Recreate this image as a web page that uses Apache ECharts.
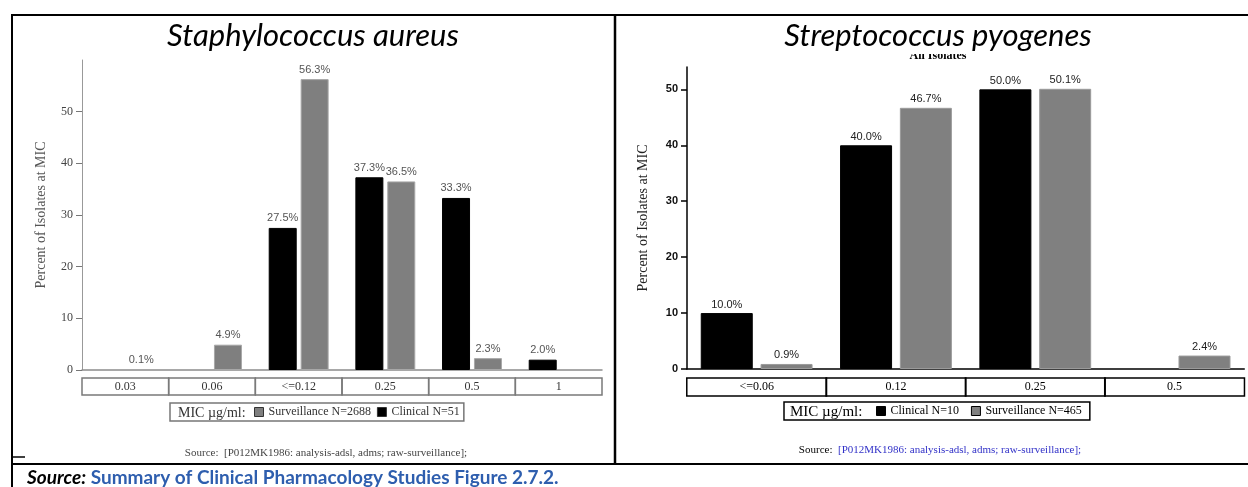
<!DOCTYPE html>
<html>
<head>
<meta charset="utf-8">
<script src="https://cdn.jsdelivr.net/npm/echarts@6/dist/echarts.min.js"></script>
<style>
  html, body { margin: 0; padding: 0; background: #fff; }
  #chart { width: 1248px; height: 487px; }
</style>
</head>
<body>
<div id="chart"></div>
<script>
// Staphylococcus aureus: MIC distribution (percent of isolates)
const saCategories = ['0.03', '0.06', '<=0.12', '0.25', '0.5', '1'];
const saClinical = [null, null, 27.5, 37.3, 33.3, 2.0];
const saSurveillance = [0.1, 4.9, 56.3, 36.5, 2.3, null];
const saTicks = [0, 10, 20, 30, 40, 50];

// Streptococcus pyogenes: MIC distribution (percent of isolates)
const spCategories = ['<=0.06', '0.12', '0.25', '0.5'];
const spClinical = [10.0, 40.0, 50.0, null];
const spSurveillance = [0.9, 46.7, 50.1, 2.4];
const spTicks = [0, 10, 20, 30, 40, 50];

const SERIF = '"Liberation Serif", "DejaVu Serif", serif';
const SANS = '"Liberation Sans", Arial, sans-serif';
const TITLE_FONT = 'Lato, "Open Sans", sans-serif';

// grid geometry
const gA = { left: 82, top: 60, width: 520, height: 310 };
const gB = { left: 687, top: 67, width: 559, height: 302 };
const catWA = gA.width / saCategories.length;
const catWB = gB.width / spCategories.length;

const pct = p => (p.value == null ? '' : p.value.toFixed(1) + '%');

const chart = echarts.init(document.getElementById('chart'), null, { renderer: 'canvas' });

chart.setOption({
  animation: false,
  backgroundColor: '#fff',
  grid: [
    Object.assign({ containLabel: false }, gA),
    Object.assign({ containLabel: false }, gB)
  ],
  xAxis: [
    {
      gridIndex: 0, type: 'category', data: saCategories,
      axisLine: { lineStyle: { color: '#8c8c8c', width: 1.5 } },
      axisTick: { show: false },
      axisLabel: {
        interval: 0, margin: 8, width: catWA, height: 17, lineHeight: 17,
        align: 'center', borderColor: '#7a7a7a', borderWidth: 1.5,
        fontFamily: SERIF, fontSize: 12, color: '#333'
      }
    },
    {
      gridIndex: 1, type: 'category', data: spCategories,
      axisLine: { lineStyle: { color: '#000', width: 1.5 } },
      axisTick: { show: false },
      axisLabel: {
        interval: 0, margin: 9, width: catWB, height: 18, lineHeight: 18,
        align: 'center', borderColor: '#000', borderWidth: 1.5,
        fontFamily: SERIF, fontSize: 12, color: '#000'
      }
    }
  ],
  yAxis: [
    {
      gridIndex: 0, type: 'value', min: 0, max: 60, interval: 10,
      name: 'Percent of Isolates at MIC', nameLocation: 'middle', nameGap: 34,
      nameTextStyle: { fontFamily: SERIF, fontSize: 14, color: '#555' },
      axisLine: { show: true, lineStyle: { color: '#999', width: 1 } },
      axisTick: { show: true, length: 6, customValues: saTicks, lineStyle: { color: '#777' } },
      axisLabel: { customValues: saTicks, margin: 9, fontFamily: SERIF, fontSize: 12, color: '#444' },
      splitLine: { show: false }
    },
    {
      gridIndex: 1, type: 'value', min: 0, max: 54, interval: 10,
      name: 'Percent of Isolates at MIC', nameLocation: 'middle', nameGap: 37,
      nameTextStyle: { fontFamily: SERIF, fontSize: 14, color: '#222' },
      axisLine: { show: true, lineStyle: { color: '#000', width: 1.5 } },
      axisTick: { show: true, length: 6, customValues: spTicks, lineStyle: { color: '#000', width: 1.5 } },
      axisLabel: { customValues: spTicks, margin: 9, fontFamily: SANS, fontSize: 11, fontWeight: 'bold', color: '#111' },
      splitLine: { show: false }
    }
  ],
  legend: [
    {
      left: 170, top: 403, orient: 'horizontal',
      padding: [3, 4, 3, 84], borderColor: '#777', borderWidth: 1.5,
      itemWidth: 9, itemHeight: 9, itemGap: 6, icon: 'rect',
      data: ['Surveillance N=2688', 'Clinical N=51'],
      itemStyle: { borderColor: '#333', borderWidth: 1 },
      textStyle: { fontFamily: SERIF, fontSize: 12, color: '#333' }
    },
    {
      left: 784, top: 402, orient: 'horizontal',
      padding: [3, 8, 3, 92], borderColor: '#000', borderWidth: 1.5,
      itemWidth: 9, itemHeight: 9, itemGap: 12, icon: 'rect',
      data: ['Clinical N=10', 'Surveillance N=465'],
      itemStyle: { borderColor: '#000', borderWidth: 1 },
      textStyle: { fontFamily: SERIF, fontSize: 12, color: '#000' }
    }
  ],
  series: [
    {
      name: 'Clinical N=51', type: 'bar', xAxisIndex: 0, yAxisIndex: 0,
      data: saClinical, barWidth: 28, barGap: '14%',
      itemStyle: { color: '#000', borderColor: '#000', borderWidth: 1 },
      label: { show: true, position: 'top', distance: 4, formatter: pct,
               fontFamily: SANS, fontSize: 11, color: '#555' }
    },
    {
      name: 'Surveillance N=2688', type: 'bar', xAxisIndex: 0, yAxisIndex: 0,
      data: saSurveillance, barWidth: 28, barGap: '14%',
      itemStyle: { color: '#7f7f7f', borderColor: '#a8a8a8', borderWidth: 1 },
      label: { show: true, position: 'top', distance: 4, formatter: pct,
               fontFamily: SANS, fontSize: 11, color: '#555' }
    },
    {
      name: 'Clinical N=10', type: 'bar', xAxisIndex: 1, yAxisIndex: 1,
      data: spClinical, barWidth: 52, barGap: '15%',
      itemStyle: { color: '#000', borderColor: '#000', borderWidth: 1 },
      label: { show: true, position: 'top', distance: 3, formatter: pct,
               fontFamily: SANS, fontSize: 11, color: '#222' }
    },
    {
      name: 'Surveillance N=465', type: 'bar', xAxisIndex: 1, yAxisIndex: 1,
      data: spSurveillance, barWidth: 52, barGap: '15%',
      itemStyle: { color: '#808080', borderColor: '#9a9a9a', borderWidth: 1 },
      label: { show: true, position: 'top', distance: 3, formatter: pct,
               fontFamily: SANS, fontSize: 11, color: '#222' }
    }
  ],
  graphic: [
    // table frame
    { type: 'line', shape: { x1: 11, y1: 15, x2: 1248, y2: 15 }, style: { stroke: '#000', lineWidth: 2 } },
    { type: 'line', shape: { x1: 12, y1: 14, x2: 12, y2: 487 }, style: { stroke: '#000', lineWidth: 2 } },
    { type: 'line', shape: { x1: 615, y1: 14, x2: 615, y2: 465 }, style: { stroke: '#000', lineWidth: 2.5 } },
    { type: 'line', shape: { x1: 11, y1: 464, x2: 1248, y2: 464 }, style: { stroke: '#000', lineWidth: 2 } },
    { type: 'line', shape: { x1: 12, y1: 457, x2: 25, y2: 457 }, style: { stroke: '#000', lineWidth: 1.5 } },

    // panel titles
    { type: 'text', x: 938, y: 56, z: 10,
      style: { text: 'All Isolates', font: 'bold 12px ' + SERIF, fill: '#000',
               textAlign: 'center', textVerticalAlign: 'middle' } },
    { type: 'rect', shape: { x: 895, y: 40, width: 90, height: 14 }, z: 11,
      style: { fill: '#fff' } },
    { type: 'text', x: 313, y: 36, z: 12,
      style: { text: 'Staphylococcus aureus', font: 'italic 31px ' + TITLE_FONT, fill: '#000',
               textAlign: 'center', textVerticalAlign: 'middle' } },
    { type: 'text', x: 938, y: 36, z: 12,
      style: { text: 'Streptococcus pyogenes', font: 'italic 31px ' + TITLE_FONT, fill: '#000',
               textAlign: 'center', textVerticalAlign: 'middle' } },

    // legend captions
    { type: 'text', x: 178, y: 413, z: 20,
      style: { text: 'MIC µg/ml:', font: '14px ' + SERIF, fill: '#333', textVerticalAlign: 'middle' } },
    { type: 'text', x: 790, y: 412, z: 20,
      style: { text: 'MIC µg/ml:', font: '15px ' + SERIF, fill: '#000', textVerticalAlign: 'middle' } },

    // data source notes
    { type: 'text', x: 326, y: 453,
      style: { text: 'Source:  [P012MK1986: analysis-adsl, adms; raw-surveillance];',
               font: '11px ' + SERIF, fill: '#444', textAlign: 'center', textVerticalAlign: 'middle' } },
    { type: 'text', x: 940, y: 450,
      style: { text: '{a|Source:  }{b|[P012MK1986: analysis-adsl, adms; raw-surveillance];}',
               textAlign: 'center', textVerticalAlign: 'middle',
               rich: {
                 a: { font: '11px ' + SERIF, fill: '#000' },
                 b: { font: '11px ' + SERIF, fill: '#3232c8' }
               } } },
    { type: 'text', x: 27, y: 478,
      style: { text: '{a|Source:}{b| Summary of Clinical Pharmacology Studies Figure 2.7.2.}',
               textVerticalAlign: 'middle',
               rich: {
                 a: { font: 'italic bold 19px ' + TITLE_FONT, fill: '#000' },
                 b: { font: 'bold 19px ' + TITLE_FONT, fill: '#2e5eae' }
               } } }
  ]
});
</script>
</body>
</html>
